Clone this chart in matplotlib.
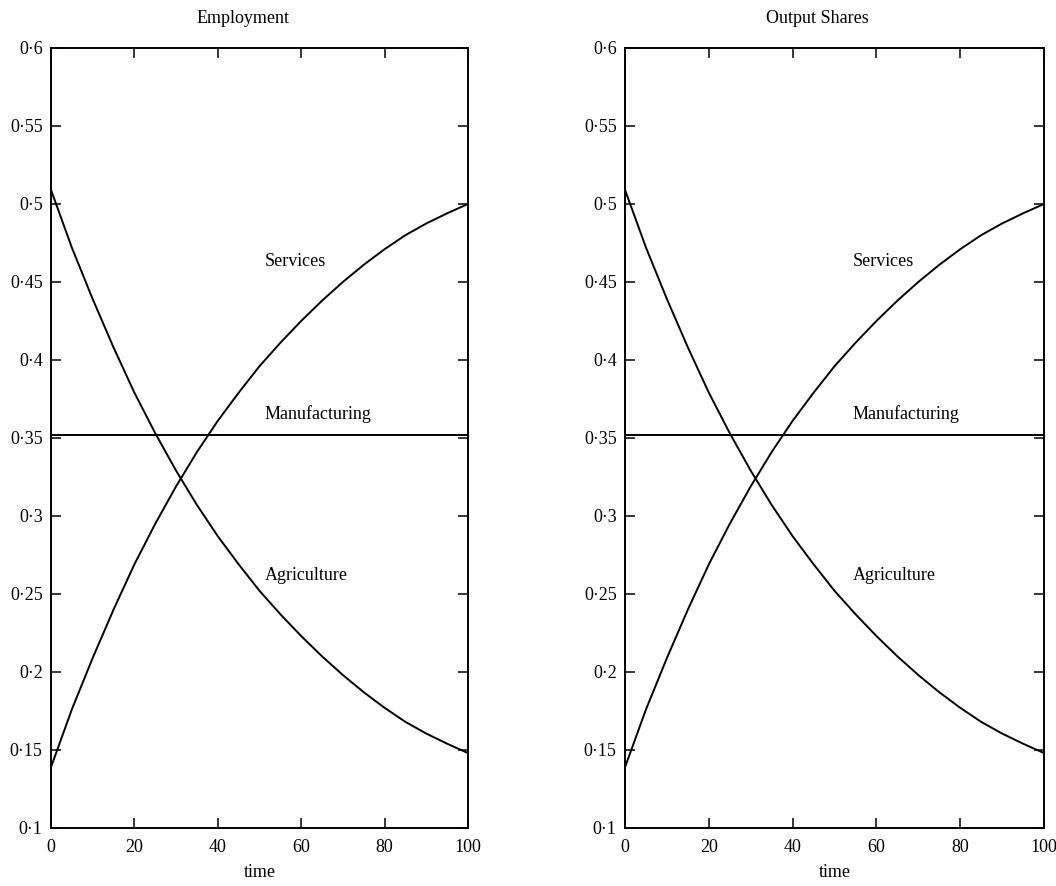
import matplotlib
matplotlib.use("Agg")
import matplotlib.pyplot as plt
from matplotlib.ticker import FuncFormatter, MultipleLocator

plt.rcParams["font.family"] = ["Liberation Serif", "DejaVu Serif"]

# values, every 5 time units
time = [0, 5, 10, 15, 20, 25, 30, 35, 40, 45, 50,
        55, 60, 65, 70, 75, 80, 85, 90, 95, 100]
agriculture = [0.509, 0.472, 0.439, 0.408, 0.379, 0.353, 0.329, 0.307, 0.287, 0.269, 0.252,
               0.237, 0.223, 0.210, 0.198, 0.187, 0.177, 0.168, 0.1605, 0.154, 0.148]
services = [0.139, 0.176, 0.209, 0.240, 0.269, 0.295, 0.319, 0.341, 0.361, 0.379, 0.396,
            0.411, 0.425, 0.438, 0.450, 0.461, 0.471, 0.480, 0.4875, 0.494, 0.500]
manufacturing = [0.352] * len(time)

panel_titles = ["Employment", "Output Shares"]
sector_labels = ["Services", "Manufacturing", "Agriculture"]
label_y = [0.463, 0.365, 0.262]
label_x = [51.3, 54.4]

fig = plt.figure(figsize=(10.56, 8.86), dpi=100)
axes = [fig.add_axes([0.0483, 0.0655, 0.3949, 0.8804]),
        fig.add_axes([0.5919, 0.0655, 0.3968, 0.8804])]

dot_fmt = FuncFormatter(lambda v, pos: f"{v:g}".replace(".", "·"))

for i, ax in enumerate(axes):
    for series in (agriculture, services, manufacturing):
        ax.plot(time, series, color="black", lw=1.4, solid_joinstyle="round")
    ax.set_xlim(0, 100)
    ax.set_ylim(0.1, 0.6)
    ax.xaxis.set_major_locator(MultipleLocator(20))
    ax.yaxis.set_major_locator(MultipleLocator(0.05))
    ax.yaxis.set_major_formatter(dot_fmt)
    ax.tick_params(direction="in", length=7, width=1.1, top=True, right=True,
                   labelsize=13, colors="black")
    ax.tick_params(axis="y", pad=6)
    ax.tick_params(axis="x", pad=8)
    for sp in ax.spines.values():
        sp.set_linewidth(1.4)
    ax.set_xlabel("time", fontsize=13, labelpad=6)
    ax.text(0.46, 1.027, panel_titles[i], transform=ax.transAxes,
            ha="center", va="bottom", fontsize=13)
    for name, y in zip(sector_labels, label_y):
        ax.text(label_x[i], y, name, ha="left", va="center", fontsize=13)

fig.savefig("out.png", dpi=100, facecolor="white")
